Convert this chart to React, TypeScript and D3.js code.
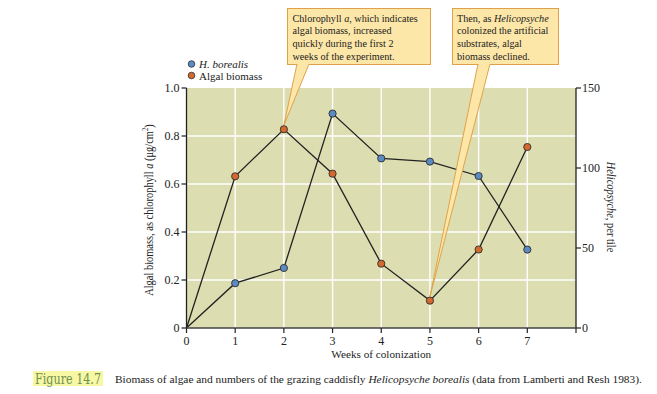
import React from "react";
import * as d3 from "d3";

// data
const weeks = [0, 1, 2, 3, 4, 5, 6, 7];
const algalBiomass = [0, 0.632, 0.828, 0.643, 0.268, 0.114, 0.327, 0.754];
const heliPerTile = [0, 28, 37.5, 134, 106, 104, 95, 49];
const xTicks = [0, 1, 2, 3, 4, 5, 6, 7, 8];
const leftTicks = [0, 0.2, 0.4, 0.6, 0.8, 1.0];
const rightTicks = [0, 50, 100, 150];

const serif = "'Liberation Serif', 'Times New Roman', serif";
const BLUE = "#5a8cc3";
const ORANGE = "#d4692f";
const BOX_FILL = "#fde7a8";
const BOX_STROKE = "#e0a14a";

export default function App() {
  const margin = { top: 88, left: 186.5, right: 576, bottom: 328 };

  const x = d3.scaleLinear().domain([0, 8]).range([margin.left, margin.right]);
  const yL = d3.scaleLinear().domain([0, 1]).range([margin.bottom, margin.top]);
  const yR = d3.scaleLinear().domain([0, 150]).range([margin.bottom, margin.top]);

  const algalPts = weeks.map((w, i) => [x(w), yL(algalBiomass[i])] as [number, number]);
  const heliPts = weeks.map((w, i) => [x(w), yR(heliPerTile[i])] as [number, number]);
  const line = d3.line();

  // callout pointers aim at week 2 and week 5 algal points
  const tip1 = algalPts[2];
  const tip2 = algalPts[5];
  const sx = 0.9; // narrow type, like the printed face

  return (
    <svg width={657} height={394} style={{ position: "absolute", left: 0, top: 0, background: "#fff" }}
      fontFamily={serif}>
      {/* plot background */}
      <rect x={margin.left} y={margin.top} width={margin.right - margin.left}
        height={margin.bottom - margin.top} fill="#dcddb1" />
      {/* grid */}
      {xTicks.slice(1, 8).map((t) => (
        <line key={"gx" + t} x1={x(t)} x2={x(t)} y1={margin.top} y2={margin.bottom}
          stroke="#fff" strokeWidth={1.4} />
      ))}
      {leftTicks.slice(1, 5).map((t) => (
        <line key={"gy" + t} x1={margin.left} x2={margin.right} y1={yL(t)} y2={yL(t)}
          stroke="#fff" strokeWidth={1.4} />
      ))}

      {/* series lines */}
      <path d={line(algalPts) || ""} fill="none" stroke="#222" strokeWidth={1.3} />
      <path d={line(heliPts) || ""} fill="none" stroke="#222" strokeWidth={1.3} />

      {/* callout pointers */}
      <polygon points={`${tip1[0]},${tip1[1] - 4} 297,64 309,64`} fill={BOX_FILL} stroke={BOX_STROKE} strokeWidth={1} />
      <polygon points={`${tip2[0]},${tip2[1] - 4} 478,64 490,64`} fill={BOX_FILL} stroke={BOX_STROKE} strokeWidth={1} />

      {/* points */}
      {heliPts.slice(1).map((p, i) => (
        <circle key={"h" + i} cx={p[0]} cy={p[1]} r={3.6} fill={BLUE} stroke="#2d2d2d" strokeWidth={0.9} />
      ))}
      {algalPts.slice(1).map((p, i) => (
        <circle key={"a" + i} cx={p[0]} cy={p[1]} r={3.6} fill={ORANGE} stroke="#2d2d2d" strokeWidth={0.9} />
      ))}

      {/* left axis */}
      <line x1={margin.left} x2={margin.left} y1={margin.top} y2={margin.bottom} stroke="#222" strokeWidth={1.3} />
      {leftTicks.map((t) => (
        <g key={"lt" + t}>
          <line x1={margin.left - 5} x2={margin.left} y1={yL(t)} y2={yL(t)} stroke="#222" strokeWidth={1.2} />
          <text x={margin.left - 7} y={yL(t) + 4} textAnchor="end" fontSize={12} fill="#222">
            {t === 0 ? "0" : d3.format(".1f")(t)}
          </text>
        </g>
      ))}
      {/* right axis */}
      <line x1={margin.right} x2={margin.right} y1={margin.top} y2={margin.bottom} stroke="#222" strokeWidth={1.3} />
      {rightTicks.map((t) => (
        <g key={"rt" + t}>
          <line x1={margin.right} x2={margin.right + 5} y1={yR(t)} y2={yR(t)} stroke="#222" strokeWidth={1.2} />
          <text x={margin.right + 6} y={yR(t) + 4} textAnchor="start" fontSize={12} fill="#222">{t}</text>
        </g>
      ))}
      {/* bottom axis */}
      <line x1={margin.left} x2={margin.right} y1={margin.bottom} y2={margin.bottom} stroke="#444" strokeWidth={1.4} />
      {xTicks.map((t) => (
        <g key={"xt" + t}>
          <line x1={x(t)} x2={x(t)} y1={margin.bottom} y2={margin.bottom + 5} stroke="#222" strokeWidth={1.2} />
          {t < 8 && (
            <text x={x(t)} y={margin.bottom + 17} textAnchor="middle" fontSize={12} fill="#222">{t}</text>
          )}
        </g>
      ))}

      {/* axis titles */}
      <text x={(margin.left + margin.right) / 2} y={358} textAnchor="middle" fontSize={11.2} fill="#222">
        Weeks of colonization
      </text>
      <text transform={`translate(153,${(margin.top + margin.bottom) / 2 + 2}) rotate(-90) scale(${sx},1)`}
        textAnchor="middle" fontSize={11.6} fill="#222">
        Algal biomass, as chlorophyll <tspan fontStyle="italic">a</tspan> (μg/cm
        <tspan fontSize={7.5} dy={-5}>2</tspan><tspan dy={5}>)</tspan>
      </text>
      <text transform={`translate(607,${(margin.top + margin.bottom) / 2 - 1}) rotate(90) scale(${sx},1)`}
        textAnchor="middle" fontSize={11.6} fill="#222">
        <tspan fontStyle="italic">Helicopsyche</tspan>, per tile
      </text>

      {/* legend */}
      <circle cx={191.5} cy={64} r={3.3} fill={BLUE} stroke="#2d2d2d" strokeWidth={0.8} />
      <text x={199} y={67.5} fontSize={11} fill="#222" fontStyle="italic">H. borealis</text>
      <circle cx={191.5} cy={75.5} r={3.3} fill={ORANGE} stroke="#2d2d2d" strokeWidth={0.8} />
      <text x={199} y={79.5} fontSize={11} fill="#222">Algal biomass</text>

      {/* callout boxes */}
      <rect x={287.5} y={8.5} width={143} height={56} fill={BOX_FILL} stroke={BOX_STROKE} strokeWidth={1} />
      <line x1={297.5} x2={308.5} y1={64.5} y2={64.5} stroke={BOX_FILL} strokeWidth={1.5} />
      <text transform={`translate(292.5,21.5) scale(${sx},1)`} fontSize={11.3} fill="#222">
        <tspan x={0}>Chlorophyll <tspan fontStyle="italic">a</tspan>, which indicates</tspan>
        <tspan x={0} dy={13}>algal biomass, increased</tspan>
        <tspan x={0} dy={13}>quickly during the first 2</tspan>
        <tspan x={0} dy={13}>weeks of the experiment.</tspan>
      </text>
      <rect x={452.5} y={8.5} width={106} height={56} fill={BOX_FILL} stroke={BOX_STROKE} strokeWidth={1} />
      <line x1={478.5} x2={489.5} y1={64.5} y2={64.5} stroke={BOX_FILL} strokeWidth={1.5} />
      <text transform={`translate(457,21.5) scale(${sx},1)`} fontSize={11.3} fill="#222">
        <tspan x={0}>Then, as <tspan fontStyle="italic">Helicopsyche</tspan></tspan>
        <tspan x={0} dy={13}>colonized the artificial</tspan>
        <tspan x={0} dy={13}>substrates, algal</tspan>
        <tspan x={0} dy={13}>biomass declined.</tspan>
      </text>

      {/* caption */}
      <rect x={33} y={371} width={70} height={15} fill="#f8f7a4" />
      <text x={35} y={383.5} fontSize={14.5} fill="#6e9150" fontFamily="'DejaVu Serif', serif"
        textLength={66} lengthAdjust="spacingAndGlyphs">Figure 14.7</text>
      <text x={115} y={383} fontSize={11.4} fill="#222">
        Biomass of algae and numbers of the grazing caddisfly{" "}
        <tspan fontStyle="italic">Helicopsyche borealis</tspan> (data from Lamberti and Resh 1983).
      </text>
    </svg>
  );
}
